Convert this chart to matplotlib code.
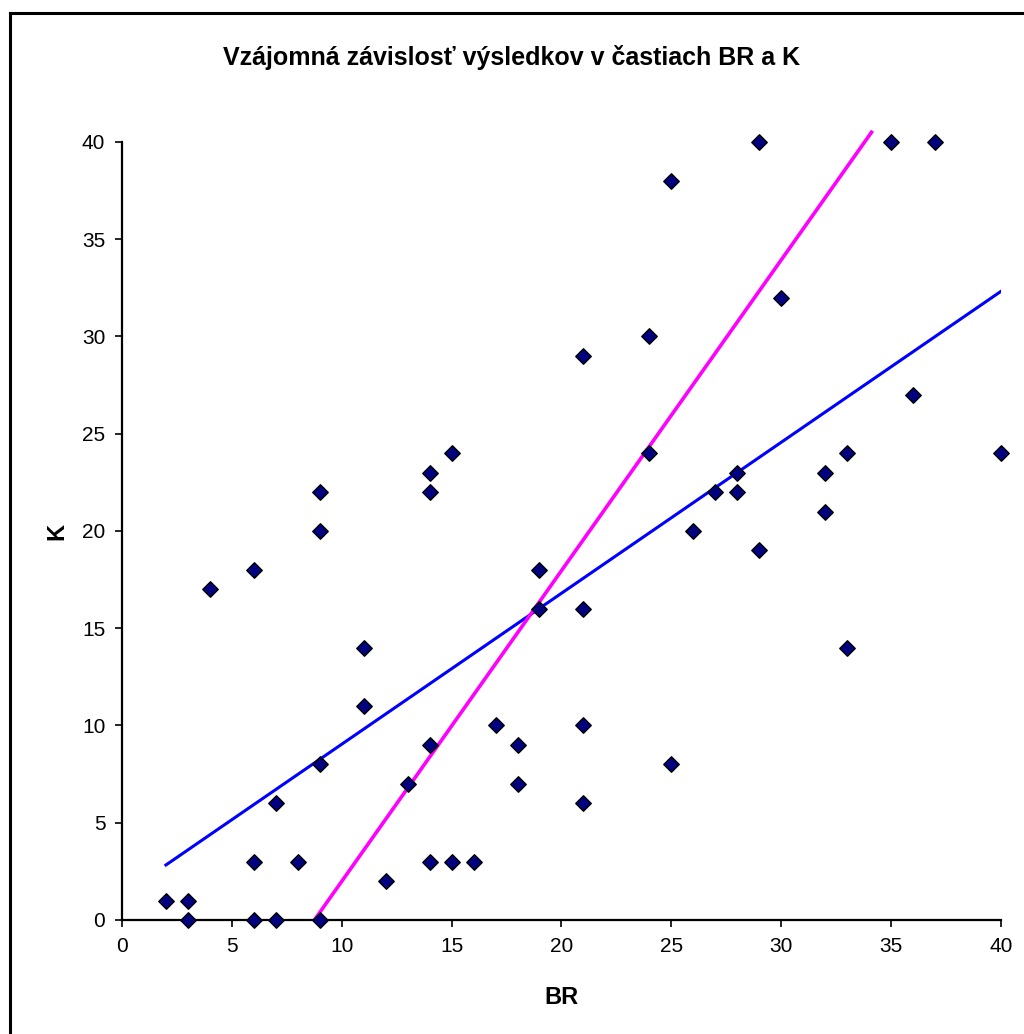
import numpy as np
import matplotlib
matplotlib.use("Agg")
import matplotlib.pyplot as plt
from matplotlib.lines import Line2D

plt.rcParams["font.family"] = ["Liberation Sans", "DejaVu Sans"]

# scores in part BR and part K (one pair per student)
BR = [2, 3, 3, 4, 6, 6, 6, 7, 7, 8, 9, 9, 9, 9, 11, 11, 12, 13, 14, 14, 14, 14,
      15, 15, 16, 17, 18, 18, 19, 19, 21, 21, 21, 21, 24, 24, 25, 25, 26, 27,
      28, 28, 29, 29, 30, 32, 32, 33, 33, 35, 36, 37, 40]
K = [1, 1, 0, 17, 18, 3, 0, 6, 0, 3, 22, 20, 8, 0, 14, 11, 2, 7, 23, 22, 9, 3,
     24, 3, 3, 10, 9, 7, 18, 16, 29, 16, 10, 6, 30, 24, 38, 8, 20, 22,
     23, 22, 40, 19, 32, 23, 21, 24, 14, 40, 27, 40, 24]

X_TICKS = [0, 5, 10, 15, 20, 25, 30, 35, 40]
Y_TICKS = [0, 5, 10, 15, 20, 25, 30, 35, 40]

x = np.asarray(BR, dtype=float)
y = np.asarray(K, dtype=float)

# regression K on BR (blue) and BR on K (magenta)
a1, b1 = np.polyfit(x, y, 1)
a2, b2 = np.polyfit(y, x, 1)

fig = plt.figure(figsize=(10.24, 10.34), dpi=100)
ax = fig.add_axes([0.1191, 0.1103, 0.9775 - 0.1191, 0.8627 - 0.1103])

xs = np.array([x.min(), x.max()])
ax.plot(xs, a1 * xs + b1, color="#0000ff", linewidth=2.2, zorder=2)
ks = np.array([y.min(), 40.5])
ax.plot(a2 * ks + b2, ks, color="#ff00ff", linewidth=2.6, zorder=2, clip_on=False)

ax.scatter(x, y, marker="D", s=62, color="#000080", edgecolor="black",
           linewidth=1.0, zorder=3, clip_on=False)

ax.set_xlim(0, 40)
ax.set_ylim(0, 40)
ax.set_xticks(X_TICKS)
ax.set_yticks(Y_TICKS)
ax.tick_params(direction="out", length=5, width=1.2, labelsize=15, pad=7)
for side in ("top", "right"):
    ax.spines[side].set_visible(False)
for side in ("left", "bottom"):
    ax.spines[side].set_linewidth(1.6)

ax.set_xlabel("BR", fontsize=17, fontweight="bold", labelpad=22)
ax.set_ylabel("K", fontsize=17, fontweight="bold", labelpad=10)
fig.text(0.5, 1 - 58 / 1034, "Vzájomná závislosť výsledkov v častiach BR a K",
         ha="center", va="center", fontsize=18, fontweight="bold")

# chart frame (only left and top edges visible in the crop)
fig.add_artist(Line2D([10 / 1024, 10 / 1024], [0, 1 - 13 / 1034], color="black",
                      linewidth=2.2, transform=fig.transFigure))
fig.add_artist(Line2D([10 / 1024, 1], [1 - 13 / 1034, 1 - 13 / 1034], color="black",
                      linewidth=2.2, transform=fig.transFigure))

fig.savefig("out.png", dpi=100)
